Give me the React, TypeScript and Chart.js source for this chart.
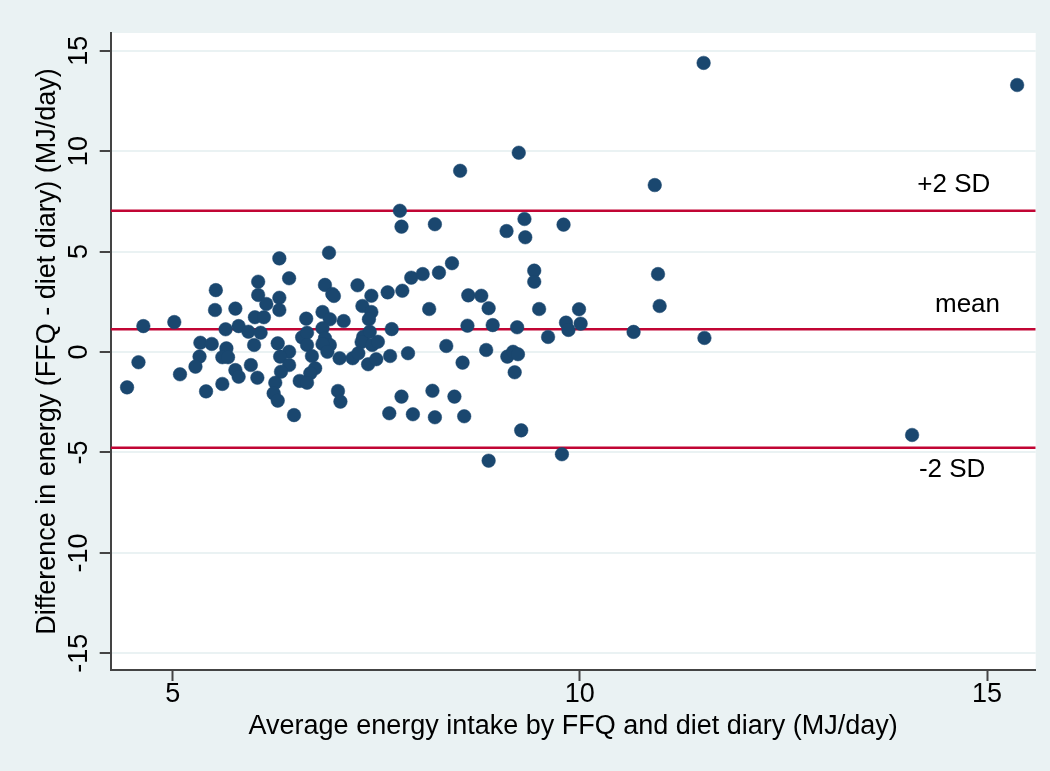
import React, { useEffect, useRef } from "react";
import { Chart, registerables } from "chart.js";

Chart.register(...registerables);

// Average energy intake (MJ/day), x values
const avgEnergy = [
  4.64, 5.02, 5.53, 5.52, 5.77, 6.05, 6.05, 5.65, 5.81, 5.93, 6.01, 6.0, 5.34, 5.48, 5.33, 5.66, 5.61, 5.68, 4.58, 5.28, 5.09, 5.77, 5.81, 5.96, 6.04, 4.44, 5.61, 5.41,
  6.31, 6.92, 6.43, 6.87, 6.96, 6.98, 7.27, 7.44, 7.64, 7.82, 7.93, 6.31, 6.15, 6.31, 6.12, 6.08, 6.64, 6.84, 6.93, 7.1, 7.33, 7.44, 7.41, 6.59, 6.65, 6.65, 6.84, 6.87, 6.93, 6.84, 6.9, 7.34, 7.42, 7.32, 7.45, 7.52, 7.69, 6.29, 6.43, 6.32, 6.71, 7.05, 7.21, 7.28, 7.4, 7.5, 7.67, 7.89, 6.43, 6.33, 6.75, 6.69, 6.56, 6.65, 6.26, 6.24, 6.29, 7.03, 7.06, 6.49, 7.81, 7.66, 7.95,
  9.25, 8.53, 7.79, 7.81, 8.22, 9.1, 9.32, 9.33, 9.8, 8.07, 8.27, 8.43, 8.15, 8.63, 8.79, 8.88, 9.44, 9.44, 9.5, 9.99, 8.62, 8.93, 9.23, 9.61, 9.83, 9.86, 10.01,
  8.36, 8.56, 8.85, 9.11, 9.18, 9.24, 9.2, 8.19, 8.46, 8.22, 8.58, 9.28, 8.88, 9.78,
  11.52, 15.37, 10.92, 10.96, 10.98, 10.66, 11.53, 14.08,
];

// Difference in energy (FFQ - diet diary), y values
const diffEnergy = [
  1.29, 1.49, 3.08, 2.09, 2.16, 3.5, 2.84, 1.13, 1.29, 1.01, 1.73, 0.35, 0.46, 0.4, -0.23, 0.18, -0.26, -0.26, -0.51, -0.73, -1.11, -0.9, -1.23, -0.65, -1.28, -1.76, -1.59, -1.96,
  4.66, 4.94, 3.67, 3.34, 2.89, 2.79, 3.32, 2.8, 2.97, 3.05, 3.7, 2.7, 2.39, 2.09, 1.73, 0.96, 1.66, 1.99, 1.63, 1.54, 2.29, 1.99, 1.63, 0.73, 0.96, 0.35, 1.18, 0.68, 0.35, 0.4, 0.01, 0.76, 1.01, 0.5, 0.35, 0.51, 1.14, 0.43, 0.01, -0.23, -0.2, -0.31, -0.31, -0.06, -0.61, -0.36, -0.2, -0.06, -0.65, -0.98, -0.81, -1.06, -1.44, -1.53, -1.53, -2.06, -2.42, -1.94, -2.47, -3.14, -2.22, -3.05, -3.1,
  9.92, 9.02, 7.03, 6.24, 6.36, 6.02, 6.62, 5.71, 6.34, 3.88, 3.95, 4.42, 2.14, 2.82, 2.8, 2.18, 4.05, 3.5, 2.14, 2.13, 1.31, 1.34, 1.23, 0.75, 1.46, 1.1, 1.41,
  0.3, -0.53, 0.1, -0.23, 0.01, -0.11, -1.01, -1.93, -2.22, -3.25, -3.2, -3.9, -5.41, -5.09,
  14.39, 13.29, 8.31, 3.88, 2.29, 1.0, 0.7, -4.13,
];

// Reference lines: +2 SD, mean, -2 SD
const refLineValues = [7.03, 1.13, -4.77];

// Reference line labels
const refLabelTexts = ["+2 SD", "mean", "-2 SD"];
const refLabelX = [15.04, 15.16, 14.98];
const refLabelY = [8.31, 2.34, -5.87];

// Axis ticks and ranges
const xTicks = [5, 10, 15];
const yTicks = [-15, -10, -5, 0, 5, 10, 15];
const xRange = [4.239, 15.598];
const yRange = [-15.83, 15.88];

const xTitle = "Average energy intake by FFQ and diet diary (MJ/day)";
const yTitle = "Difference in energy (FFQ - diet diary) (MJ/day)";

const BG = "#eaf2f3";
const NAVY = "#1a476f";
const CRANBERRY = "#c10534";
const AXIS = "#444444";
const FONT = "'Liberation Sans', Arial, sans-serif";
const FS = 27;

export default function App() {
  const canvasRef = useRef<HTMLCanvasElement | null>(null);

  useEffect(() => {
    const canvas = canvasRef.current;
    if (!canvas) return;

    const points = avgEnergy.map((x, i) => ({ x, y: diffEnergy[i] }));
    const lineSets = refLineValues.map((v) => ({
      type: "scatter" as const,
      data: [
        { x: xRange[0], y: v },
        { x: xRange[1], y: v },
      ],
      showLine: true,
      borderColor: CRANBERRY,
      backgroundColor: CRANBERRY,
      borderWidth: 2.5,
      pointRadius: 0,
      order: 2,
    }));

    const bgPlugin = {
      id: "bgPlugin",
      beforeDraw(chart: any) {
        const { ctx, chartArea } = chart;
        ctx.save();
        ctx.fillStyle = BG;
        ctx.fillRect(0, 0, chart.width, chart.height);
        ctx.fillStyle = "#ffffff";
        ctx.fillRect(chartArea.left, chartArea.top, chartArea.right - chartArea.left, chartArea.bottom - chartArea.top);
        ctx.restore();
      },
    };

    const labelPlugin = {
      id: "labelPlugin",
      afterDatasetsDraw(chart: any) {
        const { ctx, scales } = chart;
        ctx.save();
        ctx.fillStyle = "#000000";
        ctx.font = `${FS - 1}px ${FONT}`;
        ctx.textAlign = "right";
        ctx.textBaseline = "middle";
        refLabelTexts.forEach((t, i) => {
          ctx.fillText(t, scales.x.getPixelForValue(refLabelX[i]), scales.y.getPixelForValue(refLabelY[i]));
        });
        ctx.restore();
      },
    };

    const chart = new Chart(canvas, {
      type: "scatter",
      data: {
        datasets: [
          {
            data: points,
            backgroundColor: NAVY,
            borderColor: NAVY,
            borderWidth: 0.5,
            pointRadius: 6.8,
            order: 1,
          },
          ...lineSets,
        ],
      },
      options: {
        responsive: false,
        animation: false,
        devicePixelRatio: 1,
        layout: { padding: { top: 33, right: 14.3, left: 0, bottom: 0 } },
        plugins: {
          legend: { display: false },
          tooltip: { enabled: false },
        },
        scales: {
          x: {
            type: "linear",
            min: xRange[0],
            max: xRange[1],
            afterBuildTicks: (scale: any) => {
              scale.ticks = xTicks.map((v) => ({ value: v }));
            },
            afterFit: (scale: any) => {
              scale.height = 101;
            },
            border: { display: true, color: AXIS, width: 2 },
            grid: {
              display: true,
              drawOnChartArea: false,
              drawTicks: true,
              tickLength: 11,
              tickWidth: 2,
              tickColor: AXIS,
            },
            ticks: {
              color: "#000",
              font: { family: FONT, size: FS, lineHeight: 1 },
              padding: 0,
              maxRotation: 0,
              minRotation: 0,
              callback: (v: any) => String(v),
            },
            title: {
              display: true,
              text: xTitle,
              color: "#000",
              font: { family: FONT, size: FS, lineHeight: 1.2 },
              padding: { top: 0, bottom: 27.8 },
            },
          },
          y: {
            type: "linear",
            min: yRange[0],
            max: yRange[1],
            afterBuildTicks: (scale: any) => {
              scale.ticks = yTicks.map((v) => ({ value: v }));
            },
            afterFit: (scale: any) => {
              scale.width = 110.7;
            },
            border: { display: true, color: AXIS, width: 2 },
            grid: {
              display: true,
              drawOnChartArea: true,
              color: BG,
              lineWidth: 2,
              drawTicks: true,
              tickLength: 11,
              tickWidth: 2,
              tickColor: AXIS,
            },
            ticks: {
              color: "#000",
              font: { family: FONT, size: FS, lineHeight: 1 },
              padding: 1,
              minRotation: 90,
              maxRotation: 90,
              crossAlign: "center",
              callback: (v: any) => String(v),
            },
            title: {
              display: true,
              text: yTitle,
              color: "#000",
              font: { family: FONT, size: FS, lineHeight: 1.2 },
              padding: { top: 31.8, bottom: 0 },
            },
          },
        },
      },
      plugins: [bgPlugin, labelPlugin],
    } as any);

    return () => {
      chart.destroy();
    };
  }, []);

  return (
    <div style={{ position: "fixed", left: 0, top: 0, width: 1050, height: 771, background: "#ffffff" }}>
      <canvas ref={canvasRef} width={1050} height={771} style={{ display: "block", width: 1050, height: 771 }} />
    </div>
  );
}
